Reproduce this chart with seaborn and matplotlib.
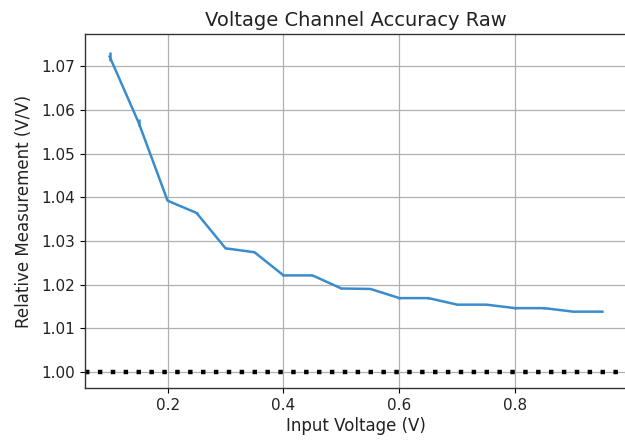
import matplotlib
matplotlib.use("Agg")
import matplotlib.pyplot as plt
import seaborn as sns
import pandas as pd

input_voltage = [0.10, 0.15, 0.20, 0.25, 0.30, 0.35, 0.40, 0.45, 0.50,
                 0.55, 0.60, 0.65, 0.70, 0.75, 0.80, 0.85, 0.90, 0.95]
relative_meas = [1.0722, 1.0571, 1.0392, 1.0364, 1.0283, 1.0274, 1.0221, 1.0221, 1.0191,
                 1.0190, 1.0169, 1.0169, 1.0154, 1.0154, 1.0146, 1.0146, 1.0138, 1.0138]
meas_err = [0.0010, 0.0008, 0.0001, 0.0003, 0.0001, 0.0001, 0.0001, 0.0001, 0.0001,
            0.0001, 0.0001, 0.0001, 0.0001, 0.0001, 0.0001, 0.0001, 0.0001, 0.0001]
reference_level = 1.00

df = pd.DataFrame({"v": input_voltage, "m": relative_meas, "e": meas_err})

fig = plt.figure(figsize=(6.25, 4.4), dpi=100)
ax = fig.add_axes([0.136, 0.118, 1.003 - 0.136, 0.923 - 0.118])

sns.lineplot(data=df, x="v", y="m", ax=ax, color="#3a8ccd", linewidth=1.8)
ax.errorbar(df["v"], df["m"], yerr=df["e"], fmt="none", ecolor="#3a8ccd", elinewidth=1.8)
ax.axhline(reference_level, color="black", linewidth=3.2, linestyle=(0, (1, 1.9)))

ax.set_xlim(0.0575, 0.9925)
ax.set_ylim(0.9963, 1.0774)
ax.set_xticks([0.2, 0.4, 0.6, 0.8])
ax.set_yticks([1.00, 1.01, 1.02, 1.03, 1.04, 1.05, 1.06, 1.07])
ax.grid(True, color="#b0b0b0", linewidth=0.9)
ax.set_axisbelow(True)
for s in ax.spines.values():
    s.set_linewidth(1.0)
    s.set_color("#333333")
ax.set_title("Voltage Channel Accuracy Raw", fontsize=14, pad=6, color="#222222")
ax.set_xlabel("Input Voltage (V)", fontsize=12, labelpad=3, color="#222222")
ax.set_ylabel("Relative Measurement (V/V)", fontsize=12, labelpad=6, color="#222222")
ax.tick_params(labelsize=11, labelcolor="#222222")

fig.savefig("out.png", dpi=100)
